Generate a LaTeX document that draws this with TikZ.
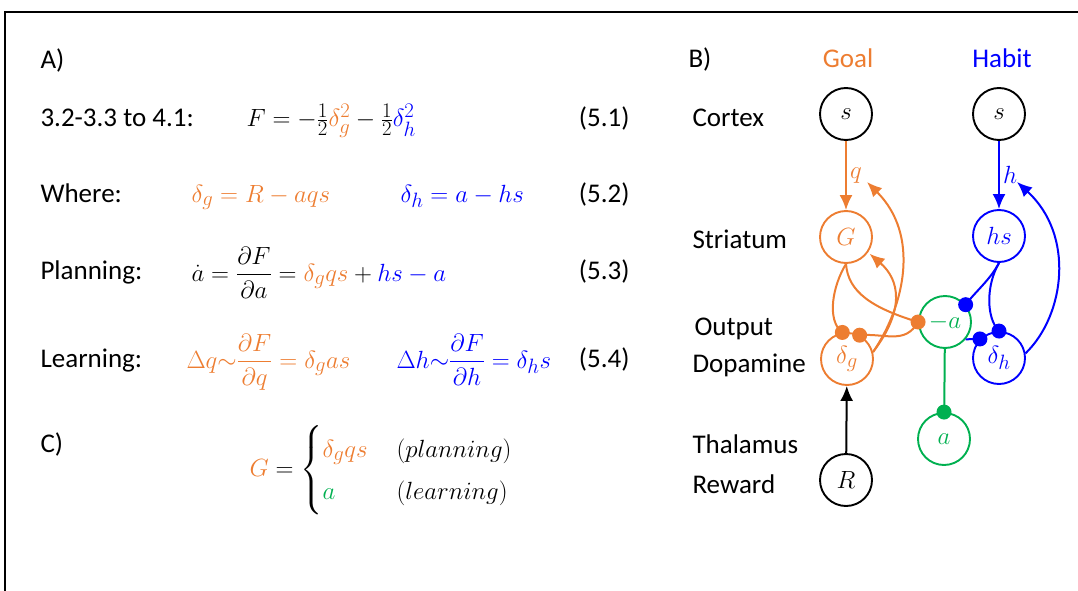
\documentclass[tikz,border=0pt]{standalone}
\usepackage{amsmath}
\usepackage{fontspec}
\setmainfont{Carlito}
\usepackage{xcolor}
\usetikzlibrary{arrows.meta}
\usetikzlibrary{math}
\definecolor{goalorange}{RGB}{237,125,49}
\definecolor{habitblue}{RGB}{0,0,255}
\definecolor{actgreen}{RGB}{0,176,80}

\tikzset{
  unit/.style={circle, draw, line width=1.9, minimum size=52, inner sep=0, font=\fontsize{30}{36}\selectfont},
  eq/.style={anchor=base west, font=\fontsize{29}{35}\selectfont},
  wire/.style={line width=2},
  link/.style={line width=2, -{Latex[length=15pt,width=13pt]}},
}

\begin{document}
\begin{tikzpicture}[x=1pt,y=-1pt,font=\fontsize{27}{32}\selectfont]
\tikzmath{
\dotrad=7.5;
}
\useasboundingbox (0,0) rectangle (1078,591);
\draw[line width=1.2] (5,591) -- (5,12) -- (1078,12);

% A) equations
\node[anchor=base west] (lblA) at (37,69) {A)};
\node[anchor=base west] (lblone) at (37,127) {3.2-3.3 to 4.1:};
\node[eq] (eqone) at (243,127) {$F=-\frac{1}{2}\textcolor{goalorange}{\delta_g^2}-\frac{1}{2}\textcolor{habitblue}{\delta_h^2}$};
\node[anchor=base east] (numone) at (633,127) {(5.1)};

\node[anchor=base west] (lbltwo) at (37,202) {Where:};
\node[eq] (eqtwoa) at (188,202) {\color{goalorange}$\delta_g=R-aqs$};
\node[eq] (eqtwob) at (397,202) {\color{habitblue}$\delta_h=a-hs$};
\node[anchor=base east] (numtwo) at (633,202) {(5.2)};

\node[anchor=base west] (lblthree) at (37,279) {Planning:};
\node[eq] (eqthree) at (188,281) {$\dot a=\dfrac{\partial F}{\partial a}=\textcolor{goalorange}{\delta_g qs}+\textcolor{habitblue}{hs-a}$};
\node[anchor=base east] (numthree) at (633,279) {(5.3)};

\node[anchor=base west] (lblfour) at (37,367) {Learning:};
\node[eq] (eqfoura) at (183,368) {\color{goalorange}$\Delta q{\sim}\dfrac{\partial F}{\partial q}=\delta_g as$};
\node[eq] (eqfourb) at (393,368) {\color{habitblue}$\Delta h{\sim}\dfrac{\partial F}{\partial h}=\delta_h s$};
\node[anchor=base east] (numfour) at (633,367) {(5.4)};

% C) output of G
\node[anchor=base west] (lblC) at (37,452) {C)};
\node[eq] (eqC) at (246,476) {$\textcolor{goalorange}{G}=\begin{cases}\textcolor{goalorange}{\delta_g qs} & (planning)\\ \textcolor{actgreen}{a} & (learning)\end{cases}$};

% B) circuit
\node[anchor=base west] (lblB) at (685,68) {B)};
\node[anchor=base, goalorange] (lblgoal) at (848,68) {Goal};
\node[anchor=base, habitblue] (lblhabit) at (1002,68) {Habit};

\node[anchor=base west] (lblcortex) at (689,127) {Cortex};
\node[anchor=base west] (lblstriatum) at (689,248) {Striatum};
\node[anchor=base west] (lbloutput) at (691,335) {Output};
\node[anchor=base west] (lbldopamine) at (689,372) {Dopamine};
\node[anchor=base west] (lblthalamus) at (689,453) {Thalamus};
\node[anchor=base west] (lblreward) at (689,493) {Reward};

\node[unit] (sg) at (846,114) {$s$};
\node[unit] (sh) at (999,114) {$s$};
\node[unit, goalorange] (G) at (846,237) {$G$};
\node[unit, habitblue] (hs) at (999,236) {$hs$};
\node[unit, actgreen] (na) at (945,322) {$-a$};
\node[unit, goalorange] (dg) at (847,359) {$\delta_g$};
\node[unit, habitblue] (dh) at (999,358) {$\delta_h$};
\node[unit, actgreen] (a) at (944,439) {$a$};
\node[unit] (R) at (846,480) {$R$};

\coordinate (qtip) at (867,182);
\coordinate (htip) at (1017,182);

% feedforward
\draw[link, goalorange] (sg) -- (G) node[midway, right, inner sep=3, font=\fontsize{30}{36}\selectfont] {$q$};
\draw[link, habitblue] (sh) -- (hs) node[midway, right, inner sep=3, font=\fontsize{30}{36}\selectfont] {$h$};
\draw[link] (R) -- (dg);
\draw[wire, actgreen] (na) -- (a);
\fill[actgreen] (a.north) circle (\dotrad);

% goal loop
\draw[wire, goalorange] (G.south) .. controls (833,285) and (826,320) .. (dg.100);
\draw[wire, goalorange] (G.south) .. controls (848,292) and (872,308) .. (na.west);
\draw[wire, goalorange] (na.west) .. controls (905,345) and (885,333) .. (dg.62);
\draw[link, goalorange] (dg.15) .. controls (905,305) and (920,235) .. (qtip);
\draw[link, goalorange, shorten >=2] (dg.15) .. controls (905,310) and (900,280) .. (G.-35);
\fill[goalorange] (dg.100) circle (\dotrad) (dg.62) circle (\dotrad) (na.west) circle (\dotrad);

% habit loop
\draw[wire, habitblue] (hs.south) .. controls (990,280) and (975,292) .. (na.40);
\draw[wire, habitblue] (hs.south) .. controls (986,285) and (986,318) .. (dh.north);
\draw[wire, habitblue] (na.-40) -- (dh.135);
\draw[link, habitblue] (dh.10) .. controls (1065,315) and (1075,235) .. (htip);
\fill[habitblue] (na.40) circle (\dotrad) (dh.north) circle (\dotrad) (dh.135) circle (\dotrad);

\end{tikzpicture}
\end{document}
